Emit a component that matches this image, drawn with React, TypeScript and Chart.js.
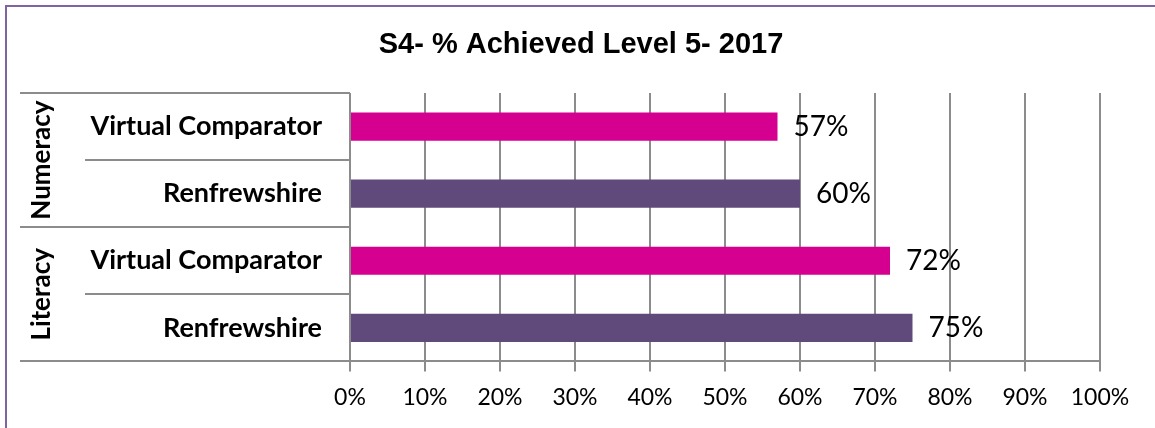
import React, { useEffect, useRef } from 'react';
import { Chart, registerables } from 'chart.js';

Chart.register(...registerables);

// ---- data ----
const chartTitle = 'S4- % Achieved Level 5- 2017';
const groups = ['Numeracy', 'Literacy'];
const seriesNames = ['Virtual Comparator', 'Renfrewshire'];
const virtualComparator = [57, 72]; // Numeracy, Literacy
const renfrewshire = [60, 75]; // Numeracy, Literacy
const xMin = 0;
const xMax = 100;
const xStep = 10;

// ---- styles ----
const MAGENTA = '#D5008F';
const PURPLE = '#604A7B';
const FRAME = '#8064A2';
const GRID = '#8C8C8C';
const BODY_FONT = 'Lato';

const categories = groups.flatMap(() => seriesNames);
const vcData = groups.flatMap((_, i) => [virtualComparator[i], null]);
const renData = groups.flatMap((_, i) => [null, renfrewshire[i]]);

const framePlugin = {
  id: 'frame',
  beforeDraw(chart: any) {
    const { ctx, width, height } = chart;
    ctx.save();
    ctx.fillStyle = '#ffffff';
    ctx.fillRect(0, 0, width, height);
    ctx.strokeStyle = FRAME;
    ctx.lineWidth = 2;
    ctx.strokeRect(6, 6, width + 50, height + 50);
    ctx.fillStyle = '#000';
    ctx.font = 'bold 29px "Liberation Sans"';
    ctx.textAlign = 'center';
    ctx.textBaseline = 'alphabetic';
    ctx.fillText(chartTitle, 581, 53);
    ctx.restore();
  },
};

const tablePlugin = {
  id: 'labelTable',
  afterDraw(chart: any) {
    const { ctx, chartArea } = chart;
    const y = chart.scales.y;
    const n = chart.data.labels.length;
    const step = (chartArea.bottom - chartArea.top) / n;
    ctx.save();
    ctx.strokeStyle = GRID;
    ctx.lineWidth = 2;
    for (let i = 0; i <= n; i++) {
      const yy = Math.round(chartArea.top + i * step);
      const x0 = i % seriesNames.length === 0 ? 20 : 85;
      ctx.beginPath();
      ctx.moveTo(x0, yy);
      ctx.lineTo(chartArea.left, yy);
      ctx.stroke();
    }
    ctx.beginPath();
    ctx.moveTo(chartArea.left, chartArea.top);
    ctx.lineTo(chartArea.left, chartArea.bottom);
    ctx.stroke();

    ctx.fillStyle = '#000';
    ctx.font = `bold 26px ${BODY_FONT}`;
    ctx.textAlign = 'center';
    ctx.textBaseline = 'middle';
    groups.forEach((g, gi) => {
      const first = y.getPixelForValue(gi * seriesNames.length);
      const last = y.getPixelForValue(gi * seriesNames.length + seriesNames.length - 1);
      const cy = (first + last) / 2;
      ctx.save();
      ctx.translate(42, cy);
      ctx.rotate(-Math.PI / 2);
      ctx.fillText(g, 0, 0);
      ctx.restore();
    });
    ctx.restore();
  },
};

const valueLabelPlugin = {
  id: 'valueLabels',
  afterDatasetsDraw(chart: any) {
    const { ctx } = chart;
    ctx.save();
    ctx.fillStyle = '#000';
    ctx.font = `28px ${BODY_FONT}`;
    ctx.textAlign = 'left';
    ctx.textBaseline = 'middle';
    chart.data.datasets.forEach((ds: any, di: number) => {
      const meta = chart.getDatasetMeta(di);
      meta.data.forEach((el: any, i: number) => {
        const v = ds.data[i];
        if (v === null || v === undefined) return;
        ctx.fillText(`${v}%`, el.x + 16, el.y);
      });
    });
    ctx.restore();
  },
};

export default function App() {
  const ref = useRef<HTMLCanvasElement | null>(null);

  useEffect(() => {
    if (!ref.current) return;
    const chart = new Chart(ref.current, {
      type: 'bar',
      data: {
        labels: categories,
        datasets: [
          {
            label: seriesNames[0],
            data: vcData,
            backgroundColor: MAGENTA,
            borderWidth: 0,
            categoryPercentage: 1,
            barPercentage: 0.42,
          },
          {
            label: seriesNames[1],
            data: renData,
            backgroundColor: PURPLE,
            borderWidth: 0,
            categoryPercentage: 1,
            barPercentage: 0.42,
          },
        ],
      },
      options: {
        indexAxis: 'y',
        responsive: false,
        animation: false,
        devicePixelRatio: 1,
        layout: { padding: { left: 0, right: 55, top: 93, bottom: 5 } },
        plugins: {
          legend: { display: false },
          tooltip: { enabled: false },
          title: { display: false },
        },
        scales: {
          x: {
            type: 'linear',
            min: xMin,
            max: xMax,
            stacked: true,
            ticks: {
              stepSize: xStep,
              color: '#000',
              font: { family: BODY_FONT, size: 23 },
              padding: 12,
              callback: (v: any) => `${v}%`,
            },
            grid: { color: GRID, lineWidth: 2, tickLength: 10, drawTicks: true },
            border: { display: true, color: GRID, width: 2 },
          },
          y: {
            type: 'category',
            stacked: true,
            afterFit: (scale: any) => {
              scale.width = 350;
            },
            ticks: {
              color: '#000',
              font: { family: BODY_FONT, size: 27, weight: 'bold' },
              padding: 28,
            },
            grid: { display: false, drawTicks: false },
            border: { display: false },
          },
        },
      },
      plugins: [framePlugin, tablePlugin, valueLabelPlugin],
    } as any);
    return () => chart.destroy();
  }, []);

  return (
    <div style={{ position: 'fixed', left: 0, top: 0, width: 1155, height: 428 }}>
      <canvas ref={ref} width={1155} height={428} style={{ display: 'block' }} />
    </div>
  );
}
